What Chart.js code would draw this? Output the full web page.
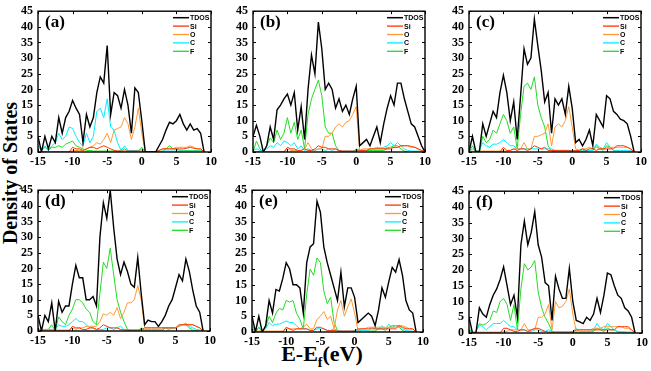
<!DOCTYPE html>
<html>
<head>
<meta charset="utf-8">
<script src="https://cdn.jsdelivr.net/npm/chart.js@4.4.1/dist/chart.umd.min.js"></script>
<style>
  html, body { margin: 0; padding: 0; background: #fff; }
  #wrap { position: relative; width: 651px; height: 371px; overflow: hidden; }
  canvas { position: absolute; }
  .ytitle { position: absolute; left: 10px; top: 173px; transform: translate(-50%, -50%) rotate(-90deg);
            font: bold 20px "Liberation Serif", "Times New Roman", serif; white-space: nowrap; color: #000; }
  .xtitle { position: absolute; left: 322px; top: 356px; transform: translate(-50%, -50%);
            font: bold 22px "Liberation Serif", "Times New Roman", serif; white-space: nowrap; color: #000; }
  .xtitle sub { font-size: 14px; }
</style>
</head>
<body>
<div id="wrap">
  <div class="ytitle">Density of States</div>
  <div class="xtitle">E-E<sub>f</sub>(eV)</div>
</div>
<script>
// energy grid (eV), shared by all panels
const energy = [-15,-14.5,-14,-13.5,-13,-12.5,-12,-11.5,-11,-10.5,-10,-9.5,-9,-8.5,-8,-7.5,-7,-6.5,-6,-5.5,
  -5,-4.5,-4,-3.5,-3,-2.5,-2,-1.5,-1,-0.5,0,0.5,1,1.5,2,2.5,3,3.5,4,4.5,5,5.5,6,6.5,7,7.5,8,8.5,9,9.5,10];
const seriesNames = ["TDOS", "Si", "O", "C", "F"];
const xTicks = [-15, -10, -5, 0, 5, 10];
const yTicks = [0, 5, 10, 15, 20, 25, 30, 35, 40, 45];

// (a)
const tdosA = [5,0,5,1,5,3,11,6,11,13,16.5,14,12,3,12,8,11,19,24,22,34,12,19,18,14,20,15,6,20.5,19,10,0,0,0,0,2,4,7,9.5,9,10,12,9,7,9,7,7.5,6,0];
const siA = [0,0,0,0,0,0,0,0,0,0,1.5,1,1,0.5,1,1.5,1.5,1,1.5,2,1.5,1,0.5,0.3,0.3,0.3,0.3,0.3,0.3,0.3,0.3,0,0,0,0,0.5,1,1,1,1,1,1,1,1.2,1.5,1.2,1,1,0];
const oA = [0,0,0,0,0,0,0,0,0,0,0.5,0.5,0.5,0.5,1,1.5,2,3,2.5,4,6,3,7,7.5,8,11,9,4,8,14,6,0,0,0,0,0.5,1,1,1,1,1.5,1.5,1.5,1.5,2,1.5,1,1,0];
const cA = [2,0.5,2,0.5,2,3,6,4,5,8,7.5,5,3,2,6,3,5,13,14,11,17,8,7,3,0.5,2,0.5,0.5,0.5,0.5,1,0,0,0,0,0,0.3,0.3,0.3,0.3,0.3,0.3,0.3,0.3,0.3,0.3,0.3,0.3,0];
const fA = [2,0.5,1.5,0.5,1.5,1.5,2,1.5,2.5,3,3.5,2,1.5,1,0.5,0.5,0.3,0.3,0.3,0.3,0.3,0.3,0.3,0.3,0.3,1,0.3,0.3,0.3,0.3,1.5,0,0,0,0,0,0.3,1,2,1,1,0.5,0.5,0.5,0.5,0.5,0.5,0.5,0];

// (b)
const tdosB = [5,8.5,5,0,2,8,4,13.5,15,17,18.5,15,19,7,14.5,4,20,31,25,41.5,33,20,22,20,14,17,13,15,12,17,21,2,3,4,2,5,8,3,9,14,18,15,22,22,17,13,9,8,5,2,0];
const siB = [0,0,0,0,0,0,0,0,0,0,1.5,1,1,0.5,0.5,1,0.5,0.5,1,2,1.5,1.5,1,1,1,0.5,0.3,0.3,0.3,0.3,0.3,0.5,0.5,0.5,1,1,1,1,1,1,1,1.5,1.5,2,2,2,1.8,1.5,1,0.5,0];
const oB = [0,0,0,0,0,0,0,0,0,0,1,0.5,0.5,0.5,0.5,1,3,1,0.5,1,1,5,5,6,8,9,8,9.5,10,12,14.5,0.5,1,1,1,1,1,1.5,1,1.5,1.5,1.5,1.5,2,2,2,1.5,1.5,1,0.5,0];
const cB = [0.5,1,0.5,0.3,1,2,1.5,3,2,3.5,3,2,3,1,2,0.5,1,0.5,0.5,1,1,0.5,1,0.5,1,0.3,0.3,0.3,0.3,0.3,0.5,0.5,0.5,0.5,1,1,1.5,1,1.5,2,3,2,3,2,1,0.5,0.3,0.3,0.3,0.3,0];
const fB = [0,3.5,1,0,2,4.5,3,7,4,6,11,6,9.5,4,7,1,12,17,20,23,18,8,6,6,2,0.3,0,0,0,0,1,0.5,0.5,0.5,0.5,0.5,0.5,0.5,0.5,1,1.5,2,2,1,0.3,0,0,0,0,0,0];

// (c)
const tdosC = [0,5,0,0,9,5,9,13,11,19,24.5,19,10,16,4,18,33,28,30,42.5,34,26,16,19,6,17,15,17,12,21,14,3,4,2,4,7,2,12,10,8,18,17,13,12,10.5,10,9,5,0];
const siC = [0,0,0,0,0,0,0,0,0,0,1.5,0.5,0.5,1,0.5,1,1,0.5,1,2,1.5,1,1.5,0.5,0.5,0.5,0.5,0.5,0.5,0.5,0.3,0.5,0.5,1,0.5,1,1,0.5,1,1,1,1,1,2,2,2,1.5,1,0];
const oC = [0.3,0.3,0.3,0.3,0.3,0.3,0.3,0.3,0.3,0.3,0.3,0.3,0.5,1,1,1,3,1,1,5,5,5.5,6,9,2,8,9,8,10,14.5,8,1,0.5,1,1,1.5,1,1.5,1,1,1.5,1.5,1.5,1.5,1.5,1.5,1.5,1,0];
const cC = [0,1,0.5,0.5,3,2,1.5,2.5,2.5,3,4,3,2,2,1,1,1,1,1,1,1,1,1,1,1,0.5,0.5,0.5,0.5,0.5,0.5,0.5,0.5,0.5,0.5,0.5,0.5,2.5,1.5,1,3,1.5,0.5,0.5,0.5,0.5,0.5,0.5,0];
const fC = [0,2,0,0,5,3,4,7,6,9,12,10,6,8,1,12,21,22,20,24,15,11,8,2,0.3,0,0,0,0,0,0.5,0.3,0.3,0.3,0.3,0.3,0.5,2,1,0.5,2,1.5,0.5,0.3,0,0,0,0,0];

// (d)
const tdosD = [5,0,5,3,9,0,9.5,6,8,8,15,21,17,17,10,10,11,8,30,41,36,45,33,23,18,22,19,15,14,23.5,12,2,3.5,3,3,1.5,3,5,8,10,14,18,16,23,19,13,8,6,0];
const siD = [0,0,0,0,0,0,0,0,0,0,1.5,1,1,0.5,0.5,1,1,0.5,1,2,1.5,1,1,1,0.5,0.3,0.3,0.3,0.3,0.3,0.3,1,1,1,1,1,1,1,1,1,1,2,2,2,2,2,1.5,1,0];
const oD = [0.3,0.3,0.3,0.3,0.3,0.3,0.3,0.3,0.3,0.3,1,0.5,1,1,1.5,1.5,1.5,1.5,3,5.5,5,6,5,7.5,4,6,9,9,10,14.5,10,1,1,1,1,1,1,1,1,1,1,1.5,2,2,2,2,1.5,1,0];
const cD = [0.5,0.5,0.5,0.5,0.5,0.5,2,1.5,1.5,2,3,4,3,3,2,1,1,0.5,0.5,0.5,1,1,0.5,1,1.5,0.5,0.3,0.3,0.3,0.3,0.5,0.5,0.5,0.5,0.5,0.5,0.5,1,1,1,1,1.5,2,2.5,1.5,1,0.5,0.3,0];
const fD = [1,0,0.5,0.5,2,0,4.5,3,2,5,7,10,10,9,7,6,3,2,12,22,20,26.5,18,10,6,3,0.5,0,0,0,1,0,0,0,0,0,0,1,0.5,1,1,1.5,2,2,1,0.3,0,0,0];

// (e)
const tdosE = [5,0,5,0,2,10,6,13.5,13,17,22,20,15,15,14,6,22,27,28,41.5,38,27,22,18,14,10,19,8,14,14,11,3,4,5,6,5,2,7,14,11,16,20.5,19,23,18,10,7,6,0];
const siE = [0,0,0,0,0,0,0,0,0,0,1.5,1,0.5,1,1,1,1,0.5,0.5,1.5,1.5,1,0.5,0.5,0.5,0.3,0.3,0.3,0.3,0.3,0.3,1,1,1,1,1,1,1,1,1,1,1,1,2,1.5,1,1,1,0];
const oE = [0.3,0.3,0.3,0.3,0.3,0.3,0.3,0.3,0.3,0.3,1,1,1,1,1,1.5,2.5,1,1,4,5,6.5,4,5,1,7,10,5,8,10.5,6,0.5,1,1,1.5,1.5,1.5,1.5,1.5,1.5,1.5,1.5,1.5,2,2,1.5,1,1,0];
const cE = [2,0.5,1.5,0.5,1,3,2,2.5,2.5,3,3.5,3,3,2,1,1,1,0.5,0.5,1,1,1,0.5,0.5,1,0.5,0.3,0.3,0.3,0.3,0.5,0.5,0.5,0.5,0.5,1.5,1,1,2,1,2.5,1.5,2,2,1,0.5,0.3,0.3,0];
const fE = [1.5,0,1.5,0,1.5,5,3,6,7.5,7,10,9.5,10,6,4,1,12,20,18,23.5,22,13,9,11,3,0.5,0,0,0,0,0.5,0.3,0.3,0.3,0.3,0.3,0.3,1,1,0.5,1.5,2,2,1.5,0.5,0,0,0,0];

// (f)
const tdosF = [5,0,0,8,6,5,9,12,14,17,21,15,9,12,5,28,35.5,28,32,38.5,28,24,16,15,4,18,14,11,11,20.5,10,4,3.5,3,5,4,6,11,6.5,12,19,18.5,15,12,11,8,7,5,0];
const siF = [0,0,0,0,0,0,0,0,0,0,1.5,1.5,1,0.5,0.5,1,1,0.5,1,1.5,1.5,1,0.5,0.3,0.3,0.3,0.3,0.3,0.3,0.3,0.3,1,1,1,1,1,1,1,1,1,1,1,1,2,2,2,2,1,0];
const oF = [0.3,0.3,0.3,0.3,0.3,0.3,0.3,0.3,0.3,0.3,0.5,0.5,1,1,1,1,3,1,1,1,5,5,6,9,1,10,8,8.5,10,14,6,0.5,1,1,1,1,1.5,1.5,1.5,2,2,2,2,2,2,1.5,1.5,1,0];
const cF = [1,0,0.5,2.5,2,1,2,3,3,3,4,3,2,2,1,1,1,0.5,0.5,1,1,0.5,0.5,1,0.5,0.3,0.3,0.3,0.3,0.3,0.5,1.5,0.5,0.5,0.5,0.5,1,3,1.5,1,3,2,1,0.5,0.3,0.3,0.3,0.3,0];
const fF = [1.5,0,0.5,3,2.5,3,4,7,6.5,10,11,9,4,9,1,14,22,20,21,23,13,8,5,3,0.5,0,0,0,0,0,0.3,0.3,0.3,0.3,0.3,0.3,0.5,1.5,1,0.5,1.5,1,1,0.3,0.3,0.3,0,0,0];

const colors = ["#000000", "#ff3300", "#ff9a33", "#00eeff", "#22dd22"];
const widths = [1.4, 1, 1, 1, 1];
const serif = '"Liberation Serif", "Times New Roman", serif';

// plot area of every panel (left, top, width, height in px)
const panels = [
  { label: "(a)", box: [38, 6, 173, 146],   series: [tdosA, siA, oA, cA, fA] },
  { label: "(b)", box: [253, 6, 172, 146],  series: [tdosB, siB, oB, cB, fB] },
  { label: "(c)", box: [469, 6, 172, 146],  series: [tdosC, siC, oC, cC, fC] },
  { label: "(d)", box: [38, 185, 172, 146], series: [tdosD, siD, oD, cD, fD] },
  { label: "(e)", box: [252, 185, 171, 147], series: [tdosE, siE, oE, cE, fE] },
  { label: "(f)", box: [469, 186, 173, 147], series: [tdosF, siF, oF, cF, fF] }
];

const YW = 30, XH = 18, PT = 7, PR = 9;

// frame, inner ticks, panel letter and legend inside the plot
const framePlugin = {
  id: "frame",
  afterDatasetsDraw(chart, args, opts) {
    const { ctx, chartArea: a, scales } = chart;
    ctx.save();
    ctx.strokeStyle = "#000";
    ctx.lineWidth = 1.4;
    ctx.strokeRect(a.left, a.top, a.right - a.left, a.bottom - a.top);
    ctx.lineWidth = 1;
    ctx.beginPath();
    xTicks.forEach(v => {
      const px = Math.round(scales.x.getPixelForValue(v)) + 0.5;
      ctx.moveTo(px, a.bottom); ctx.lineTo(px, a.bottom - 3);
      ctx.moveTo(px, a.top); ctx.lineTo(px, a.top + 3);
    });
    yTicks.forEach(v => {
      const py = Math.round(scales.y.getPixelForValue(v)) + 0.5;
      ctx.moveTo(a.left, py); ctx.lineTo(a.left + 3, py);
      ctx.moveTo(a.right, py); ctx.lineTo(a.right - 3, py);
    });
    ctx.stroke();

    ctx.fillStyle = "#000";
    ctx.font = "bold 17px " + serif;
    ctx.textBaseline = "middle";
    ctx.textAlign = "left";
    ctx.fillText(opts.label, a.left + 7, a.top + 11);

    ctx.font = 'bold 7px "Liberation Sans", Arial, sans-serif';
    chart.data.datasets.forEach((ds, i) => {
      const y = a.top + 6.5 + i * 8.4;
      const x0 = a.right - 38;
      ctx.strokeStyle = ds.borderColor;
      ctx.lineWidth = i === 0 ? 1.5 : 1.3;
      ctx.beginPath();
      ctx.moveTo(x0, y); ctx.lineTo(x0 + 16, y);
      ctx.stroke();
      ctx.fillText(ds.label, x0 + 17, y + 0.5);
    });
    ctx.restore();
  }
};

const wrap = document.getElementById("wrap");

panels.forEach(p => {
  const [l, t, w, h] = p.box;
  const cv = document.createElement("canvas");
  cv.width = YW + w + PR;
  cv.height = PT + h + XH;
  cv.style.left = (l - YW) + "px";
  cv.style.top = (t - PT) + "px";
  wrap.appendChild(cv);

  const tickFont = { family: serif, size: 12, weight: "bold" };

  new Chart(cv.getContext("2d"), {
    type: "line",
    data: {
      datasets: p.series.map((vals, i) => ({
        label: seriesNames[i],
        data: energy.map((e, k) => ({ x: e, y: vals[k] === undefined ? null : vals[k] })),
        borderColor: colors[i],
        borderWidth: widths[i],
        pointRadius: 0,
        tension: 0,
        fill: false
      }))
    },
    options: {
      responsive: false,
      animation: false,
      layout: { padding: { top: PT, right: PR, left: 0, bottom: 0 } },
      scales: {
        x: {
          type: "linear", min: -15, max: 10,
          afterFit: s => { s.height = XH; },
          afterBuildTicks: s => { s.ticks = xTicks.map(v => ({ value: v })); },
          ticks: { font: tickFont, color: "#000", padding: 3, maxRotation: 0, autoSkip: false },
          grid: { display: false, drawTicks: false },
          border: { display: false }
        },
        y: {
          min: 0, max: 45,
          afterFit: s => { s.width = YW; },
          afterBuildTicks: s => { s.ticks = yTicks.map(v => ({ value: v })); },
          ticks: { font: tickFont, color: "#000", padding: 5, autoSkip: false },
          grid: { display: false, drawTicks: false },
          border: { display: false }
        }
      },
      plugins: {
        legend: { display: false },
        tooltip: { enabled: false },
        frame: { label: p.label }
      }
    },
    plugins: [framePlugin]
  });
});
</script>
</body>
</html>
